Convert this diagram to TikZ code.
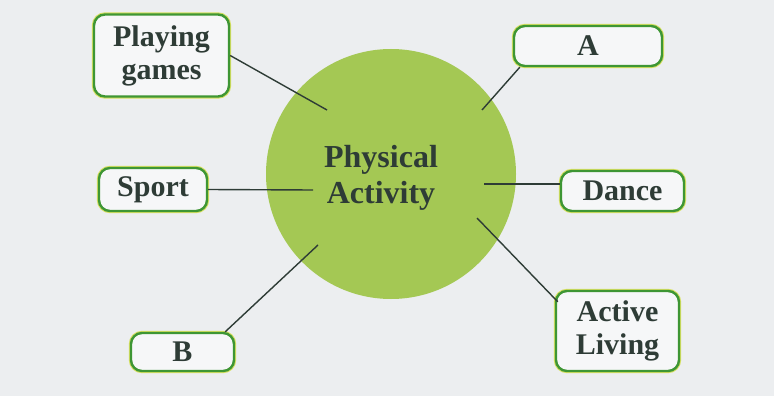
\documentclass[tikz,border=0pt]{standalone}
\usepackage{fontspec}
\setmainfont{Liberation Serif}
\definecolor{leafgreen}{RGB}{164,200,84}
\definecolor{boxgreen}{RGB}{62,150,52}
\definecolor{halo}{RGB}{214,224,96}
\definecolor{inkgray}{RGB}{46,60,54}
\definecolor{paper}{RGB}{236,238,240}
\tikzset{
  topic/.style={draw=boxgreen, line width=2.4pt, rounded corners=11pt,
    fill=white!55!paper, text=inkgray, align=center, inner sep=2pt,
    font=\fontsize{30}{32}\selectfont\bfseries,
    preaction={draw=halo, line width=4.4pt}},
  link/.style={draw=inkgray, line width=1.4pt}
}
\begin{document}
\begin{tikzpicture}[x=1pt,y=-1pt]
  % Draw paper
  \fill[paper] (0,0) rectangle (774,396);
  \useasboundingbox (0,0) rectangle (774,396);

  % Draw central circle
  \node[circle, fill=leafgreen, minimum size=250pt, inner sep=0pt] (pa) at (391,174) {};
  \node[text=inkgray, align=center, font=\fontsize{32}{36}\selectfont\bfseries]
    (pa-text) at (381,178) {Physical\\Activity};

  % Inner ends of the links
  \coordinate (pg-in) at (327,110);
  \coordinate (a-in) at (482,110);
  \coordinate (sp-in) at (313,190);
  \coordinate (da-in) at (484,184);
  \coordinate (al-in) at (477,218);
  \coordinate (b-in) at (318,245);

  % Draw topic boxes
  \node[topic, minimum width=135pt, minimum height=82pt] (pg) at (161.5,55.5) {Playing\\[1pt]games};
  \node[topic, minimum width=148pt, minimum height=40pt] (a) at (588,46) {A};
  \node[topic, minimum width=108pt, minimum height=43pt] (sport) at (153,189.5) {Sport};
  \node[topic, minimum width=123pt, minimum height=40pt] (dance) at (622.5,191) {Dance};
  \node[topic, minimum width=103pt, minimum height=38pt] (b) at (182.5,352) {B};
  \node[topic, minimum width=123pt, minimum height=80pt] (al) at (617.5,331) {Active\\[1pt]Living};

  % Draw links
  \draw[link] (pg.east) -- (pg-in);
  \draw[link] ([xshift=7pt]a.south west) -- (a-in);
  \draw[link] (sport.east) -- (sp-in);
  \draw[link] (da-in) -- (da-in -| dance.west);
  \draw[link] ([shift={(3pt,-12pt)}]al.north west) -- (al-in);
  \draw[link] ([xshift=-10pt]b.north east) -- (b-in);
\end{tikzpicture}
\end{document}
